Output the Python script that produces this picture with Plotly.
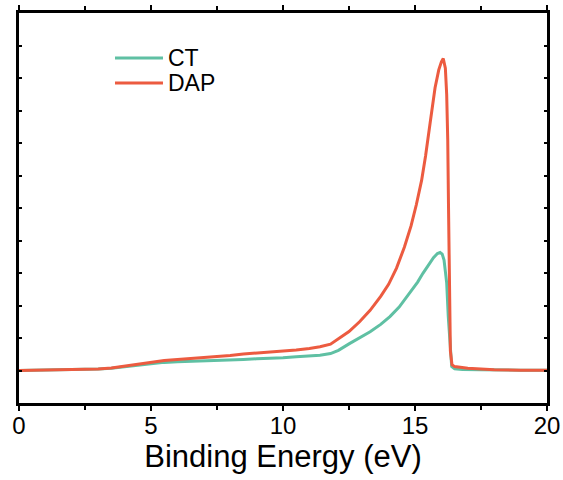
import plotly.graph_objects as go

ct_x = [0, 1, 2, 3, 3.5, 4, 4.5, 5, 5.5, 6, 6.5, 7, 7.5, 8, 8.5, 9, 9.5, 10, 10.5, 11,
        11.4, 11.8, 12.1, 12.5, 12.9, 13.3, 13.7, 14.05, 14.4, 14.8, 15.1, 15.3, 15.5,
        15.7, 15.85, 15.95, 16.03, 16.1, 16.15, 16.2, 16.26, 16.33, 16.39, 16.5, 16.8,
        17.5, 18, 19, 20]
ct_y = [0, 0.01, 0.02, 0.05, 0.07, 0.12, 0.16, 0.21, 0.25, 0.27, 0.28, 0.29, 0.30, 0.32,
        0.34, 0.36, 0.37, 0.39, 0.42, 0.45, 0.47, 0.52, 0.62, 0.82, 1.0, 1.19, 1.42, 1.66,
        1.95, 2.37, 2.72, 2.99, 3.25, 3.47, 3.6, 3.63, 3.58, 3.4, 3.05, 2.7, 1.66, 0.63,
        0.12, 0.05, 0.03, 0.02, 0.01, 0.01, 0.01]

dap_x = [0, 1, 2, 3, 3.5, 4, 4.5, 5, 5.5, 6, 6.5, 7, 7.5, 8, 8.5, 9, 9.5, 10, 10.5, 11,
         11.4, 11.8, 12.1, 12.5, 12.9, 13.3, 13.7, 14.0, 14.3, 14.6, 14.85, 15.05, 15.25,
         15.4, 15.57, 15.76, 15.9, 16.0, 16.07, 16.15, 16.2, 16.24, 16.27, 16.3, 16.34,
         16.4, 16.5, 17, 17.5, 18, 19, 20]
dap_y = [0, 0.01, 0.02, 0.05, 0.08, 0.14, 0.2, 0.26, 0.31, 0.34, 0.37, 0.39, 0.42, 0.46,
         0.51, 0.54, 0.56, 0.59, 0.63, 0.68, 0.73, 0.81, 0.97, 1.2, 1.5, 1.85, 2.28, 2.65,
         3.15, 3.8, 4.45, 5.1, 5.85, 6.6, 7.6, 8.7, 9.25, 9.5, 9.6, 9.3, 8.5, 7.1, 5.0,
         2.5, 0.6, 0.18, 0.12, 0.07, 0.04, 0.02, 0.01, 0.01]

x_ticks = [0, 5, 10, 15, 20]
x_tick_labels = ["0", "5", "10", "15", "20"]
series_names = ["CT", "DAP"]

CT_COLOR = "#5FC0A3"
DAP_COLOR = "#EC5B40"
FONT = "Liberation Sans, Arial, sans-serif"

fig = go.Figure()
fig.add_trace(go.Scatter(x=ct_x, y=ct_y, mode="lines", name=series_names[0],
                         line=dict(color=CT_COLOR, width=3)))
fig.add_trace(go.Scatter(x=dap_x, y=dap_y, mode="lines", name=series_names[1],
                         line=dict(color=DAP_COLOR, width=3)))

# Manual legend (lines as paper shapes + real text annotations)
leg_x0, leg_x1, leg_tx = 0.1818, 0.2727, 0.279
leg_ys = [0.8846, 0.8205]
for name, col, yy in zip(series_names, [CT_COLOR, DAP_COLOR], leg_ys):
    fig.add_shape(type="line", xref="paper", yref="paper", x0=leg_x0, x1=leg_x1,
                  y0=yy, y1=yy, line=dict(color=col, width=3))
    fig.add_annotation(xref="paper", yref="paper", x=leg_tx, y=yy, text=name,
                       showarrow=False, xanchor="left", yanchor="middle",
                       font=dict(size=23, family=FONT, color="black"))

fig.update_layout(
    width=563, height=480,
    margin=dict(l=19, r=16, t=13, b=77, autoexpand=False),
    plot_bgcolor="white", paper_bgcolor="white",
    font=dict(family=FONT, color="black"),
    showlegend=False,
    xaxis=dict(range=[0, 20], tickvals=x_ticks, ticktext=x_tick_labels,
               automargin=False,
               showline=True, linecolor="black", linewidth=3, mirror="ticks",
               ticks="outside", ticklen=5, tickwidth=2, tickcolor="black",
               ticklabelstandoff=-6,
               minor=dict(dtick=2.5, tick0=0, ticks="outside", ticklen=4, tickwidth=2, tickcolor="black"),
               showgrid=False, zeroline=False,
               tickfont=dict(size=24, family=FONT),
               title=dict(text="Binding Energy (eV)", font=dict(size=31, family=FONT), standoff=2)),
    yaxis=dict(range=[-1, 11], dtick=1, tick0=0, showticklabels=False,
               automargin=False,
               showline=True, linecolor="black", linewidth=3, mirror="ticks",
               ticks="inside", ticklen=3, tickwidth=2, tickcolor="black",
               showgrid=False, zeroline=False),
)

fig.write_html("out.html", post_script="document.body.style.margin='0';",
               config={"displayModeBar": False})
